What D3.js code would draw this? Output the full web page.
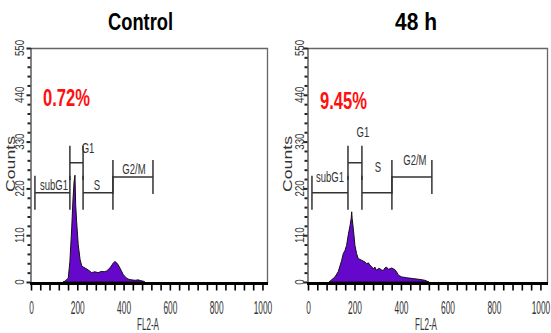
<!DOCTYPE html>
<html>
<head>
<meta charset="utf-8">
<script src="https://cdn.jsdelivr.net/npm/d3@7"></script>
<style>
  html, body { margin: 0; padding: 0; background: #fff; }
  svg { display: block; }
</style>
</head>
<body>
<div id="chart"></div>
<script>
// histogram outlines: FL2-A channel vs counts
const ctrlChannel = [138, 147, 161, 168, 176, 181, 186, 190, 193, 197, 204, 212, 219, 226, 233, 248, 262, 276, 290, 305, 316, 327, 341, 350, 356, 363, 370, 377, 384, 399, 413, 424, 435, 450, 463, 475, 485, 492];
const ctrlCounts  = [0, 2, 9, 48, 127, 190, 235, 251, 182, 143, 88, 53, 38, 35, 33, 28, 22, 24, 22, 25, 24, 26, 33, 40, 45, 48, 45, 40, 33, 17, 9, 6, 5, 4, 5, 3, 2, 0];

const h48Channel = [90, 95, 116, 130, 145, 152, 159, 166, 173, 181, 186, 188, 190, 195, 202, 209, 216, 231, 245, 252, 260, 267, 274, 281, 288, 295, 303, 310, 317, 324, 331, 338, 345, 353, 360, 367, 374, 381, 389, 403, 424, 453, 482, 503, 520];
const h48Counts  = [0, 2, 12, 24, 51, 67, 74, 86, 110, 133, 150, 165, 149, 125, 86, 67, 55, 51, 47, 43, 45, 39, 36, 31, 35, 27, 32, 31, 28, 27, 33, 35, 30, 31, 33, 31, 29, 24, 16, 12, 10, 8, 6, 4, 0];

const titles = ['Control', '48 h'];
const percents = ['0.72%', '9.45%'];
const gateNames = ['subG1', 'G1', 'S', 'G2/M'];
const ctrlGates = [[17, 168], [168, 225], [225, 354], [354, 527]];
const h48Gates  = [[17, 172], [172, 232], [232, 361], [361, 533]];
const gateLevels = [210, 280, 210, 247];
const xMajor = [0, 200, 400, 600, 800, 1000];
const yMajor = [0, 110, 220, 330, 440, 550];

const W = 551, H = 333;
const svg = d3.select('#chart').append('svg').attr('width', W).attr('height', H);

// helper: text squeezed horizontally (scaleX) around its anchor
function sText(g, x, y, str, size, sx, anchor, opts = {}) {
  const t = g.append('text')
    .attr('transform', `translate(${x},${y})${opts.rot ? ' rotate(-90)' : ''} scale(${sx},1)`)
    .attr('text-anchor', anchor)
    .attr('font-family', 'Liberation Sans, Arial, sans-serif')
    .attr('font-size', size)
    .attr('font-weight', opts.bold ? 'bold' : 'normal')
    .attr('fill', opts.fill || '#222')
    .text(str);
  if (opts.width) {
    const len = t.node().getComputedTextLength();
    const s = opts.width / len;
    t.attr('transform', `translate(${x},${y})${opts.rot ? ' rotate(-90)' : ''} scale(${s},1)`);
  }
  return t;
}

const panels = [
  { title: titles[0], pct: percents[0], ch: ctrlChannel, cnt: ctrlCounts, gates: ctrlGates,
    px: [31, 268], frameL: 30, frameR: 267, titleX: 140.5, pctX: 43, pctY: 106,
    ylabX: 24, countsX: 15, fl2X: 148,
    lab: [[1.5, -2.5], [11.5, -10], [-1, -2.6], [1, -3]] },
  { title: titles[1], pct: percents[1], ch: h48Channel, cnt: h48Counts, gates: h48Gates,
    px: [308, 546], frameL: 307, frameR: 547, titleX: 416, pctX: 320, pctY: 109,
    ylabX: 304, countsX: 292, fl2X: 426,
    lab: [[0, -11], [8, -26], [1, -21], [3, -12]] }
];

panels.forEach(p => {
  const g = svg.append('g');
  const x = d3.scaleLinear().domain([0, 1024]).range(p.px);
  const y = d3.scaleLinear().domain([0, 550]).range([282, 48]);

  // frame top / right
  g.append('path')
    .attr('d', `M${p.frameL},48.5 H${p.frameR + 0.5} V283`)
    .attr('fill', 'none').attr('stroke', '#666').attr('stroke-width', 1.3);

  // histogram
  const pts = p.ch.map((c, i) => [c, p.cnt[i]]);
  const area = d3.area().x(d => x(d[0])).y0(y(0)).y1(d => y(d[1]));
  g.append('path').datum(pts)
    .attr('d', area)
    .attr('fill', '#6608cc')
    .attr('stroke', '#111').attr('stroke-width', 1);

  // left axis
  const ya = g.append('g').attr('transform', `translate(${p.frameL + 0.5},0)`)
    .call(d3.axisLeft(y).tickValues(d3.range(0, 551, 22)).tickSize(3).tickFormat(''));
  ya.select('.domain').attr('stroke', '#333').attr('stroke-width', 1.2);
  ya.selectAll('.tick line').attr('stroke', '#222').attr('stroke-width', 2);
  ya.selectAll('.tick line').filter(d => d % 110 === 0).attr('x2', -4);

  yMajor.forEach(v => sText(g, p.ylabX, y(v), String(v), 12.5, 0.78, 'middle', { rot: true, fill: '#333' }));
  sText(g, p.countsX, 164, 'Counts', 13.5, 1, 'middle', { rot: true, width: 56, fill: '#333' });

  // bottom axis
  const xa = g.append('g').attr('transform', 'translate(0,283.5)')
    .call(d3.axisBottom(x).tickValues(d3.range(0, 1001, 40)).tickSize(7).tickPadding(10)
      .tickFormat(d => (xMajor.includes(d) ? d : '')));
  xa.select('.domain').attr('d', `M${p.frameL},0H${p.frameR + 1}`)
    .attr('stroke', '#000').attr('stroke-width', 3);
  xa.selectAll('.tick line').attr('stroke', '#000').attr('stroke-width', 1.6);
  xa.selectAll('.tick text')
    .attr('font-family', 'Liberation Sans, Arial, sans-serif')
    .attr('font-size', 19).attr('fill', '#333')
    .attr('transform', 'scale(0.44,1)');
  sText(g, p.fl2X, 329.5, 'FL2-A', 16, 1, 'middle', { width: 22, fill: '#333' });

  // gates
  p.gates.forEach((gt, i) => {
    const ly = y(gateLevels[i]);
    const top = y(gateLevels[i] + 40), bot = y(gateLevels[i] - 40);
    g.append('path')
      .attr('d', `M${x(gt[0])},${top}V${bot}M${x(gt[1])},${top}V${bot}M${x(gt[0])},${ly}H${x(gt[1])}`)
      .attr('fill', 'none').attr('stroke', '#333').attr('stroke-width', 1.5);
    const cx = (x(gt[0]) + x(gt[1])) / 2;
    sText(g, cx + p.lab[i][0], ly + p.lab[i][1], gateNames[i], 14, 0.68, 'middle', { fill: '#333' });
  });

  // title and percentage
  sText(g, p.titleX, 30, p.title, 24, 1, 'middle', { bold: true, fill: '#000', width: p.title === 'Control' ? 65 : 42 });
  sText(g, p.pctX, p.pctY, p.pct, 24, 1, 'start', { bold: true, fill: '#ff1010', width: 47 });
});
</script>
</body>
</html>
